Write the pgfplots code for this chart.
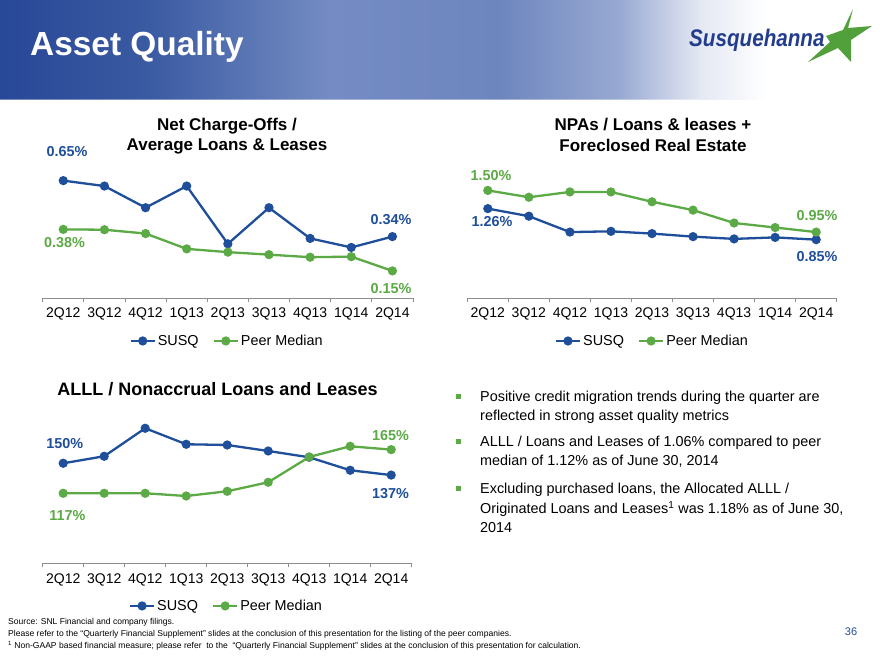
\documentclass[border=0pt]{standalone}
\usepackage{pgfplots}
\pgfplotsset{compat=1.18}
\usepackage{fontspec}
\setmainfont{Liberation Sans}
\newfontfamily\logofont[FakeStretch=0.86]{Liberation Sans}
\definecolor{susq}{RGB}{31,78,155}
\definecolor{peer}{RGB}{92,170,70}
\definecolor{axgray}{RGB}{140,140,140}
\definecolor{logoblue}{RGB}{35,60,140}
\definecolor{stargreen}{RGB}{82,160,60}
\definecolor{bA}{RGB}{40,72,152}
\definecolor{bB}{RGB}{58,90,162}
\definecolor{bC}{RGB}{116,140,195}
\definecolor{bD}{RGB}{110,134,190}
\definecolor{bE}{RGB}{152,169,210}
\definecolor{bF}{RGB}{228,232,243}
\pgfdeclarehorizontalshading{band}{100bp}{color(0bp)=(bA); color(25bp)=(bA); color(33.5bp)=(bB); color(43.7bp)=(bC); color(53.4bp)=(bD); color(60.2bp)=(bE); color(64.8bp)=(bF); color(68.5bp)=(white); color(100bp)=(white)}
\pgfplotsset{
  slide/.style={
    scale only axis, anchor=south west,
    xmin=-0.5, xmax=8.5,
    axis y line=none,
    axis x line*=bottom,
    x axis line style={draw=axgray, line width=0.9pt, -},
    xtick={0,...,8},
    xticklabels={2Q12,3Q12,4Q12,1Q13,2Q13,3Q13,4Q13,1Q14,2Q14},
    major tick length=0pt,
    minor xtick={-0.5,0.5,...,8.5},
    minor tick length=4pt,
    every minor tick/.style={draw=axgray, line width=0.9pt},
    tick align=outside,
    xticklabel style={font=\fontsize{14}{16}\selectfont, yshift=-6.5pt},
    clip=false,
    legend columns=2,
    legend style={draw=none, fill=none, font=\fontsize{14.4}{16}\selectfont, anchor=center,
      /tikz/every even column/.append style={column sep=12pt}},
    legend image code/.code={\draw[mark repeat=2,mark phase=2,##1] plot coordinates {(0pt,0pt)(12pt,0pt)(24pt,0pt)};},
  },
  s1/.style={color=susq, line width=2.3pt, mark=*, mark size=3.4pt, mark options={solid}},
  s2/.style={color=peer, line width=2.3pt, mark=*, mark size=3.4pt, mark options={solid}},
}
\newcommand{\lab}{\fontsize{14.4}{16}\selectfont\bfseries}
\newcommand{\ttl}{\fontsize{17}{19}\selectfont\bfseries}
\newcommand{\bul}{\fontsize{14.4}{17}\selectfont}
\newcommand{\fn}{\fontsize{8.55}{9}\selectfont}
\begin{document}
\begin{tikzpicture}[x=1pt,y=1pt]
\useasboundingbox (0,0) rectangle (880,660);
\fill[white] (0,0) rectangle (880,660);
% header band
\shade[shading=band] (0,560) rectangle (880,660);
\fill[white,opacity=0.35] (0,559.5) rectangle (700,561);
\node[anchor=base west, text=white, inner sep=0, font=\fontsize{33.4}{36}\selectfont\bfseries] at (30,604) {Asset Quality};
% logo
\fill[stargreen] (853,651) -- (848,632) -- (872,634) -- (851,620) -- (851,598) -- (838,612) -- (808,598) -- (830,618) -- (826,624) -- (843,630) -- cycle;
\node[anchor=base west, text=logoblue, inner sep=0, font=\logofont\fontsize{24}{26}\selectfont\bfseries\itshape] at (689,613) {Susquehanna};

% ---------- chart 1 ----------
\node[font=\ttl] at (227,534) {Net Charge-Offs /};
\node[font=\ttl] at (227,514) {Average Loans \& Leases};
\begin{axis}[slide, at={(42.7pt,362pt)}, width=370.3pt, height=126.4pt, ymin=0, ymax=0.7,
  legend style={at={(0.498,-0.34)}}]
\addplot[s1] coordinates {(0,0.65)(1,0.62)(2,0.50)(3,0.62)(4,0.30)(5,0.50)(6,0.33)(7,0.28)(8,0.34)};
\addlegendentry{SUSQ}
\addplot[s2] coordinates {(0,0.38)(1,0.378)(2,0.357)(3,0.272)(4,0.254)(5,0.24)(6,0.226)(7,0.229)(8,0.15)};
\addlegendentry{Peer Median}
\end{axis}
\node[font=\lab, text=susq] at (67,508.3) {0.65\%};
\node[font=\lab, text=peer] at (64.5,417.7) {0.38\%};
\node[font=\lab, text=susq] at (391,440.3) {0.34\%};
\node[font=\lab, text=peer] at (391,371.7) {0.15\%};

% ---------- chart 2 ----------
\node[font=\ttl] at (653,535) {NPAs / Loans \& leases +};
\node[font=\ttl] at (653,515) {Foreclosed Real Estate};
\begin{axis}[slide, at={(467.3pt,362pt)}, width=369.4pt, height=130.3pt, ymin=0.08, ymax=1.8,
  legend style={at={(0.501,-0.33)}}]
\addplot[s1] coordinates {(0,1.26)(1,1.16)(2,0.95)(3,0.96)(4,0.93)(5,0.89)(6,0.86)(7,0.88)(8,0.85)};
\addlegendentry{SUSQ}
\addplot[s2] coordinates {(0,1.50)(1,1.41)(2,1.48)(3,1.48)(4,1.35)(5,1.24)(6,1.07)(7,1.01)(8,0.95)};
\addlegendentry{Peer Median}
\end{axis}
\node[font=\lab, text=peer] at (491,484.7) {1.50\%};
\node[font=\lab, text=susq] at (492,438) {1.26\%};
\node[font=\lab, text=peer] at (817,444.2) {0.95\%};
\node[font=\lab, text=susq] at (817,403) {0.85\%};

% ---------- chart 3 ----------
\node[font=\fontsize{18}{20}\selectfont\bfseries] at (217.5,271) {ALLL / Nonaccrual Loans and Leases};
\begin{axis}[slide, at={(42.7pt,96.7pt)}, width=369pt, height=145.5pt, ymin=40, ymax=200,
  legend style={at={(0.498,-0.293)}}]
\addplot[s1] coordinates {(0,150)(1,157.7)(2,188.5)(3,170.9)(4,170.1)(5,163.5)(6,156.6)(7,142.3)(8,137)};
\addlegendentry{SUSQ}
\addplot[s2] coordinates {(0,117)(1,117)(2,117)(3,114)(4,119.2)(5,129.1)(6,156.9)(7,168.7)(8,165)};
\addlegendentry{Peer Median}
\end{axis}
\node[font=\lab, text=susq] at (64.7,216.3) {150\%};
\node[font=\lab, text=peer] at (67.5,144.7) {117\%};
\node[font=\lab, text=peer] at (390.5,224.7) {165\%};
\node[font=\lab, text=susq] at (390.5,166.5) {137\%};

% ---------- bullets ----------
\foreach \yy in {263,218,171} {\fill[peer] (455.5,\yy-2.5) rectangle +(5,5);}
\node[anchor=base west, inner sep=0, font=\bul] at (480,258) {Positive credit migration trends during the quarter are};
\node[anchor=base west, inner sep=0, font=\bul] at (480,239) {reflected in strong asset quality metrics};
\node[anchor=base west, inner sep=0, font=\bul] at (480,213) {ALLL / Loans and Leases of 1.06\% compared to peer};
\node[anchor=base west, inner sep=0, font=\bul] at (480,194) {median of 1.12\% as of June 30, 2014};
\node[anchor=base west, inner sep=0, font=\bul] at (480,166) {Excluding purchased loans, the Allocated ALLL /};
\node[anchor=base west, inner sep=0, font=\bul] at (480,146) {Originated Loans and Leases\textsuperscript{1} was 1.18\% as of June 30,};
\node[anchor=base west, inner sep=0, font=\bul] at (480,127) {2014};

% ---------- footnotes ----------
\node[anchor=base west, inner sep=0, font=\fn] at (8,35) {Source: SNL Financial and company filings.};
\node[anchor=base west, inner sep=0, font=\fn] at (8,23) {Please refer to the ``Quarterly Financial Supplement'' slides at the conclusion of this presentation for the listing of the peer companies.};
\node[anchor=base west, inner sep=0, font=\fn] at (8,11) {\textsuperscript{1} Non-GAAP based financial measure; please refer\ \ to the\ \ ``Quarterly Financial Supplement'' slides at the conclusion of this presentation for calculation.};
\node[text=susq, font=\fontsize{11}{12}\selectfont] at (851,28) {36};
\end{tikzpicture}
\end{document}
